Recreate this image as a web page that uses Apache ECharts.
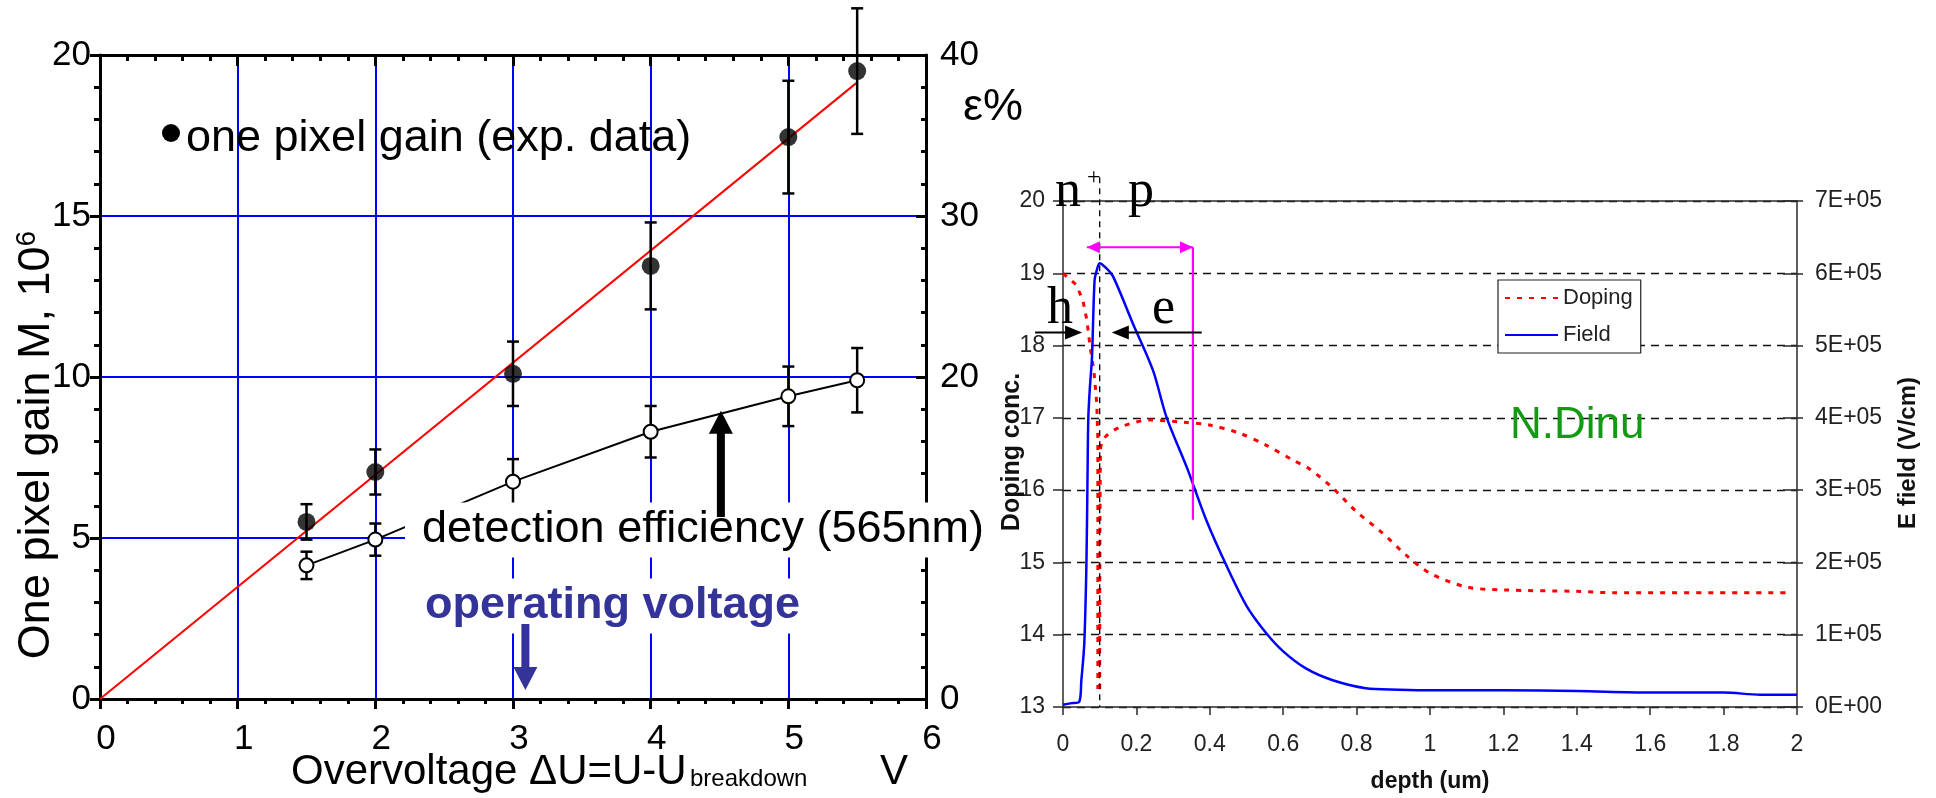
<!DOCTYPE html>
<html>
<head>
<meta charset="utf-8">
<script src="https://cdn.jsdelivr.net/npm/echarts@6/dist/echarts.min.js"></script>
<style>
html,body{margin:0;padding:0;background:#fff}
#chart{width:1936px;height:798px}
</style>
</head>
<body>
<div id="chart"></div>
<script>
// ---- Left panel: one-pixel gain and detection efficiency vs overvoltage ----
const overvoltage   = [1.5, 2, 3, 4, 5, 5.5];          // V
const gain          = [5.5, 7.05, 10.1, 13.45, 17.45, 19.5];   // M, 10^6
const gainErr       = [0.55, 0.7, 1.0, 1.35, 1.75, 1.95];
const efficiency    = [8.3, 9.9, 13.5, 16.6, 18.8, 19.8];      // %
const efficiencyErr = [0.85, 1.0, 1.4, 1.6, 1.85, 2.0];
const fitVoltage    = [0, 5.5];
const fitGain       = [0, 19.15];

// ---- Right panel: doping profile (log10 conc.) and electric field vs depth ----
const fieldDepth = [0, 0.02, 0.044, 0.05, 0.058, 0.064, 0.067, 0.069, 0.073, 0.079,
                    0.086, 0.092, 0.1, 0.118, 0.137, 0.19, 0.245, 0.282, 0.34, 0.39,
                    0.445, 0.5, 0.554, 0.6, 0.663, 0.735, 0.825, 0.915, 1.0, 1.2,
                    1.4, 1.6, 1.8, 1.9, 2.0];
const fieldE5    = [0.03, 0.05, 0.07, 0.37, 0.88, 2.03, 3.28, 4.0, 4.4, 4.84,
                    5.9, 6.04, 6.14, 6.07, 5.95, 5.31, 4.66, 4.01, 3.28, 2.59,
                    1.96, 1.4, 1.02, 0.77, 0.53, 0.37, 0.26, 0.24, 0.23, 0.23,
                    0.22, 0.2, 0.2, 0.17, 0.17];                 // x 1E+05 V/cm
const dopingNDepth = [0, 0.036, 0.054, 0.065, 0.074, 0.084, 0.092, 0.095, 0.095];
const dopingNLog   = [19.0, 18.84, 18.63, 18.35, 17.98, 17.66, 17.2, 16.7, 13.25];
const dopingPDepth = [0.1, 0.102, 0.114, 0.155, 0.236, 0.327, 0.4, 0.48, 0.554, 0.625,
                      0.67, 0.735, 0.8, 0.87, 0.935, 1.0, 1.1, 1.2, 1.4, 1.5, 1.97];
const dopingPLog   = [13.25, 16.55, 16.73, 16.87, 16.97, 16.94, 16.9, 16.79, 16.62, 16.42,
                      16.3, 16.03, 15.7, 15.41, 15.1, 14.85, 14.66, 14.62, 14.6, 14.58, 14.58];

const SANS  = '"Liberation Sans", Arial, Helvetica, sans-serif';
const SERIF = '"Liberation Serif", "Times New Roman", serif';
const GRIDBLUE = '#0000ff';
const NAVY = '#333399';

const zip = (xs, ys, k) => xs.map((x, i) => [x, ys[i] * (k || 1)]);
const errRows = (xs, v, e) => xs.map((x, i) => [x, v[i] - e[i], v[i] + e[i]]);

function renderErrorBar(params, api) {
  const x = api.value(0);
  const lo = api.coord([x, api.value(1)]);
  const hi = api.coord([x, api.value(2)]);
  const cap = 6;
  const style = { stroke: '#000', lineWidth: 2.5, fill: null };
  return {
    type: 'group',
    children: [
      { type: 'line', shape: { x1: lo[0], y1: lo[1], x2: hi[0], y2: hi[1] }, style },
      { type: 'line', shape: { x1: lo[0] - cap, y1: lo[1], x2: lo[0] + cap, y2: lo[1] }, style },
      { type: 'line', shape: { x1: hi[0] - cap, y1: hi[1], x2: hi[0] + cap, y2: hi[1] }, style }
    ]
  };
}

const blackLine = w => ({ color: '#000', width: w });
const thinLine = { color: '#2a2a2a', width: 1.5 };
const rLabel = { fontSize: 23, color: '#222', fontFamily: SANS };

const chart = echarts.init(document.getElementById('chart'), null, { renderer: 'canvas' });

const option = {
  animation: false,
  backgroundColor: '#fff',
  grid: [
    { left: 100, top: 55, width: 826, height: 644, containLabel: false, outerBoundsMode: 'none' },
    { left: 1063, top: 201, width: 734, height: 506, containLabel: false, outerBoundsMode: 'none' }
  ],
  xAxis: [
    { gridIndex: 0, type: 'value', min: 0, max: 6, interval: 1, position: 'bottom',
      axisLine: { show: true, onZero: false, lineStyle: blackLine(3) },
      axisTick: { show: true, inside: false, length: 10, lineStyle: blackLine(3) },
      minorTick: { show: true, splitNumber: 5, length: 5, lineStyle: blackLine(3) },
      axisLabel: { show: true, fontSize: 35, color: '#000', fontFamily: SANS, margin: 23,
                   padding: [0, 0, 0, 12], showMinLabel: true, showMaxLabel: true },
      splitLine: { show: true, lineStyle: { color: GRIDBLUE, width: 2 } },
      minorSplitLine: { show: false } },
    { gridIndex: 0, type: 'value', min: 0, max: 6, interval: 1, position: 'top',
      axisLine: { show: true, onZero: false, lineStyle: blackLine(3) },
      axisTick: { show: true, inside: true, length: 11, lineStyle: blackLine(3) },
      minorTick: { show: true, splitNumber: 5, length: 6, lineStyle: blackLine(3) },
      axisLabel: { show: false }, splitLine: { show: false } },
    { gridIndex: 1, type: 'value', min: 0, max: 2, interval: 0.2, position: 'bottom',
      axisLine: { show: true, onZero: false, lineStyle: thinLine },
      axisTick: { show: true, inside: false, length: 8, lineStyle: thinLine },
      axisLabel: Object.assign({ margin: 26, showMinLabel: true, showMaxLabel: true }, rLabel),
      splitLine: { show: false } },
    { gridIndex: 1, type: 'value', min: 0, max: 2, interval: 0.2, position: 'top',
      axisLine: { show: true, onZero: false, lineStyle: thinLine },
      axisTick: { show: false }, axisLabel: { show: false }, splitLine: { show: false } }
  ],
  yAxis: [
    { gridIndex: 0, type: 'value', min: 0, max: 20, interval: 5, position: 'left',
      axisLine: { show: true, onZero: false, lineStyle: blackLine(3) },
      axisTick: { show: true, inside: false, length: 10, lineStyle: blackLine(3) },
      minorTick: { show: true, splitNumber: 5, length: 6, lineStyle: blackLine(3) },
      axisLabel: { show: true, fontSize: 35, color: '#000', fontFamily: SANS, margin: 9,
                   padding: [16, 0, 0, 0], showMinLabel: true, showMaxLabel: true },
      splitLine: { show: true, lineStyle: { color: GRIDBLUE, width: 2 } } },
    { gridIndex: 0, type: 'value', min: 0, max: 40, interval: 10, position: 'right',
      axisLine: { show: true, onZero: false, lineStyle: blackLine(3) },
      axisTick: { show: true, inside: true, length: 10, lineStyle: blackLine(3) },
      minorTick: { show: true, splitNumber: 5, length: 5, lineStyle: blackLine(3) },
      axisLabel: { show: true, fontSize: 35, color: '#000', fontFamily: SANS, margin: 14,
                   padding: [16, 0, 0, 0], showMinLabel: true, showMaxLabel: true },
      splitLine: { show: false } },
    { gridIndex: 1, type: 'value', min: 13, max: 20, interval: 1, position: 'left',
      axisLine: { show: true, onZero: false, lineStyle: thinLine },
      axisTick: { show: true, inside: false, length: 10, lineStyle: thinLine },
      axisLabel: Object.assign({ margin: 18, showMinLabel: true, showMaxLabel: true }, rLabel),
      splitLine: { show: true, lineStyle: { color: '#111', width: 1.3, type: [8, 6] } } },
    { gridIndex: 1, type: 'value', min: 0, max: 7e5, interval: 1e5, position: 'right',
      axisLine: { show: true, onZero: false, lineStyle: thinLine },
      axisTick: { show: true, inside: false, length: 6, lineStyle: thinLine },
      axisLabel: Object.assign({ margin: 18, showMinLabel: true, showMaxLabel: true,
        formatter: v => v === 0 ? '0E+00' : Math.round(v / 1e5) + 'E+05' }, rLabel),
      splitLine: { show: false } },
    { gridIndex: 1, type: 'value', min: 0, max: 7e5, interval: 1e5, position: 'right',
      axisLine: { show: false, onZero: false },
      axisTick: { show: true, inside: true, length: 14, lineStyle: thinLine },
      axisLabel: { show: false }, splitLine: { show: false } }
  ],
  legend: {
    data: ['Doping', 'Field'],
    orient: 'vertical', left: 1498, top: 280,
    padding: [7, 8, 7, 6], itemGap: 15, itemWidth: 53, itemHeight: 14,
    borderColor: '#222', borderWidth: 1.2, borderRadius: 0, backgroundColor: '#fff',
    selectedMode: false,
    itemStyle: { opacity: 0 },
    textStyle: { fontSize: 22, color: '#222', fontFamily: SANS }
  },
  series: [
    { name: 'efficiency error', type: 'custom', xAxisIndex: 0, yAxisIndex: 1,
      renderItem: renderErrorBar, data: errRows(overvoltage, efficiency, efficiencyErr),
      encode: { x: 0, y: [1, 2] }, clip: false, z: 3 },
    { name: 'detection efficiency', type: 'line', xAxisIndex: 0, yAxisIndex: 1,
      data: zip(overvoltage, efficiency), symbol: 'circle', symbolSize: 14, showAllSymbol: true,
      itemStyle: { color: '#fff', borderColor: '#000', borderWidth: 2 },
      lineStyle: { color: '#000', width: 2 }, z: 4 },
    { name: 'gain fit', type: 'line', xAxisIndex: 0, yAxisIndex: 0,
      data: zip(fitVoltage, fitGain), symbol: 'none',
      lineStyle: { color: '#ff0000', width: 2 }, z: 3 },
    { name: 'gain error', type: 'custom', xAxisIndex: 0, yAxisIndex: 0,
      renderItem: renderErrorBar, data: errRows(overvoltage, gain, gainErr),
      encode: { x: 0, y: [1, 2] }, clip: false, z: 4 },
    { name: 'one pixel gain', type: 'scatter', xAxisIndex: 0, yAxisIndex: 0,
      data: zip(overvoltage, gain), symbol: 'circle', symbolSize: 18,
      itemStyle: { color: '#000' }, z: 5 },

    { name: 'Doping', type: 'line', xAxisIndex: 2, yAxisIndex: 2,
      data: zip(dopingNDepth, dopingNLog), symbol: 'none', color: '#ff0000',
      lineStyle: { color: '#ff0000', width: 3, type: [5, 7] }, z: 3 },
    { name: 'Doping', type: 'line', xAxisIndex: 2, yAxisIndex: 2,
      data: zip(dopingPDepth, dopingPLog), symbol: 'none', color: '#ff0000', smooth: 0.3,
      lineStyle: { color: '#ff0000', width: 3, type: [5, 7] }, z: 3 },
    { name: 'Field', type: 'line', xAxisIndex: 2, yAxisIndex: 3,
      data: zip(fieldDepth, fieldE5, 1e5), symbol: 'none', color: '#0000ff', smooth: 0.3,
      lineStyle: { color: '#0000ff', width: 2.5 }, z: 4 }
  ]
};

chart.setOption(option);

// ---- annotations ----
function arrowHead(tip, from, len, half, fill) {
  const dx = tip[0] - from[0], dy = tip[1] - from[1];
  const d = Math.hypot(dx, dy) || 1;
  const ux = dx / d, uy = dy / d, nx = -uy, ny = ux;
  const bx = tip[0] - ux * len, by = tip[1] - uy * len;
  return { type: 'polygon', z: 60,
    shape: { points: [tip, [bx + nx * half, by + ny * half], [bx - nx * half, by - ny * half]] },
    style: { fill: fill } };
}
function seg(a, b, color, w, dash) {
  return { type: 'line', z: 60,
    shape: { x1: a[0], y1: a[1], x2: b[0], y2: b[1] },
    style: { stroke: color, lineWidth: w, lineDash: dash || null } };
}
function txt(x, y, text, font, fill, extra) {
  return { type: 'text', x: x, y: y, z: 55,
    style: Object.assign({ text: text, font: font, fill: fill, align: 'left', verticalAlign: 'middle' }, extra || {}) };
}

const L = p => chart.convertToPixel({ xAxisIndex: 0, yAxisIndex: 0 }, p);
const R = p => chart.convertToPixel({ xAxisIndex: 2, yAxisIndex: 2 }, p);

// left-panel arrows (gain units on the y scale)
const effArrowTail = L([4.51, 5.65]), effArrowTip = L([4.51, 8.95]);
const opArrowTail = L([3.09, 2.33]), opArrowTip = L([3.09, 0.28]);

// right-panel markers (depth, log10 conc.)
const junctionTop = R([0.1, 20.33]), junctionBot = R([0.1, 13]);
const depL = R([0.065, 19.36]), depR = R([0.354, 19.36]), depBot = R([0.354, 15.59]);
const hTail = R([-0.076, 18.18]), hTip = R([0.052, 18.18]);
const eTail = R([0.378, 18.18]), eTip = R([0.133, 18.18]);

const graphics = [
  // legend-style marker for the gain data
  { type: 'circle', z: 55, shape: { cx: 171, cy: 133, r: 9 }, style: { fill: '#000' } },
  txt(186, 139, 'one pixel gain (exp. data)', '45px ' + SANS, '#000'),
  txt(963, 108, 'ε%', '45px ' + SANS, '#000'),
  txt(405, 530, 'detection efficiency (565nm)', '45px ' + SANS, '#000',
      { backgroundColor: '#fff', padding: [5, 10, 4, 17], lineHeight: 46 }),
  txt(413, 606, 'operating voltage', 'bold 45px ' + SANS, NAVY,
      { backgroundColor: '#fff', padding: [5, 10, 4, 12], lineHeight: 46 }),
  seg(effArrowTail, [effArrowTip[0], effArrowTip[1] + 20], '#000', 8),
  arrowHead(effArrowTip, effArrowTail, 23, 12, '#000'),
  seg(opArrowTail, [opArrowTip[0], opArrowTip[1] - 20], NAVY, 8),
  arrowHead(opArrowTip, opArrowTail, 23, 12, NAVY),
  // axis titles
  { type: 'text', x: 37, y: 445, rotation: Math.PI / 2, z: 55,
    style: { text: '{m|One pixel gain M, 10}{s|6}', align: 'center', verticalAlign: 'middle',
      rich: { m: { font: '45px ' + SANS, fill: '#000', lineHeight: 48 },
              s: { font: '28px ' + SANS, fill: '#000', verticalAlign: 'top', lineHeight: 48 } } } },
  txt(291, 772, 'Overvoltage ΔU=U-U', '42px ' + SANS, '#000'),
  txt(690, 779, 'breakdown', '24px ' + SANS, '#000'),
  txt(880, 772, 'V', '42px ' + SANS, '#000'),

  // right panel
  seg(junctionTop, junctionBot, '#000', 1.3, [6, 5]),
  seg(depL, depR, '#ff00ff', 2.2),
  arrowHead(depL, depR, 13, 6, '#ff00ff'),
  arrowHead(depR, depL, 13, 6, '#ff00ff'),
  seg(depR, depBot, '#ff00ff', 2.2),
  seg(hTail, [hTip[0] - 12, hTip[1]], '#000', 2),
  arrowHead(hTip, hTail, 17, 7, '#000'),
  seg(eTail, [eTip[0] + 12, eTip[1]], '#000', 2),
  arrowHead(eTip, eTail, 17, 7, '#000'),
  txt(1055, 192, 'n', '52px ' + SERIF, '#000'),
  txt(1087, 178, '+', '24px ' + SERIF, '#000'),
  txt(1128, 192, 'p', '52px ' + SERIF, '#000'),
  txt(1047, 309, 'h', '52px ' + SERIF, '#000'),
  txt(1152, 309, 'e', '52px ' + SERIF, '#000'),
  txt(1510, 426, 'N.Dinu', '44px ' + SANS, '#129b12'),
  { type: 'text', x: 1012, y: 452, rotation: Math.PI / 2, z: 55,
    style: { text: 'Doping conc.', font: 'bold 25px ' + SANS, fill: '#111', align: 'center', verticalAlign: 'middle' } },
  { type: 'text', x: 1908, y: 453, rotation: Math.PI / 2, z: 55,
    style: { text: 'E field (V/cm)', font: 'bold 24px ' + SANS, fill: '#111', align: 'center', verticalAlign: 'middle' } },
  { type: 'text', x: 1430, y: 782, z: 55,
    style: { text: 'depth (um)', font: 'bold 23px ' + SANS, fill: '#111', align: 'center', verticalAlign: 'middle' } }
];

chart.setOption({ graphic: graphics });
</script>
</body>
</html>
